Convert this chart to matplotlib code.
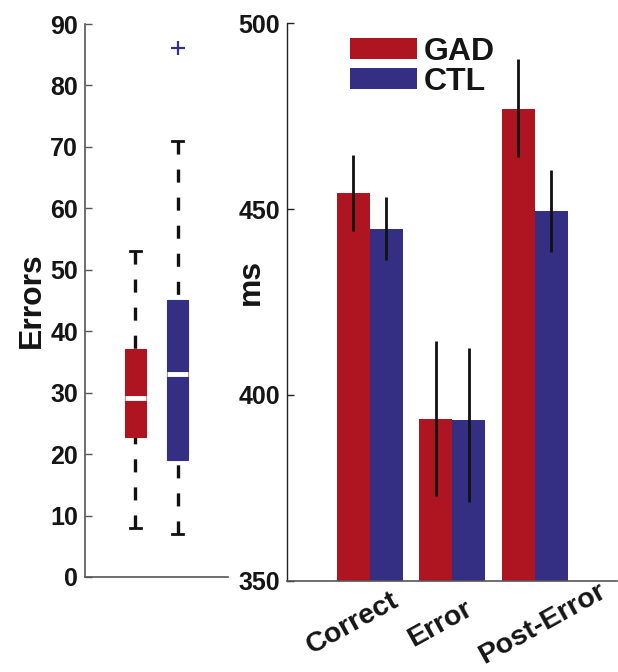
import matplotlib
matplotlib.use('Agg')
import matplotlib.pyplot as plt
import matplotlib.transforms as mtransforms
from matplotlib.patches import Patch

plt.rcParams['font.family'] = ['Liberation Sans', 'DejaVu Sans']
plt.rcParams['font.weight'] = 'bold'
plt.rcParams['lines.scale_dashes'] = False

# ---------------- data ----------------
groups = ['GAD', 'CTL']
group_colors = ['#AE1520', '#352F84']

# Box plot summary of errors
box_q1 = [22.8, 19.0]
box_median = [29.1, 33.1]
box_q3 = [37.1, 45.1]
whisk_lo = [8.0, 7.0]
whisk_hi = [53.1, 70.9]
box_outliers = [[], [86.1]]

# Reaction times (ms)
conditions = ['Correct', 'Error', 'Post-Error']
rt_gad = [454.4, 393.5, 477.0]
rt_ctl = [444.7, 393.3, 449.5]
gad_err_lo = [444.2, 372.8, 463.9]
gad_err_hi = [464.5, 414.5, 490.3]
ctl_err_lo = [436.2, 371.1, 438.4]
ctl_err_hi = [453.2, 412.6, 460.5]

left_yticks = [0, 10, 20, 30, 40, 50, 60, 70, 80, 90]
right_yticks = [350, 400, 450, 500]

TXT = '#151515'
W, H = 618, 672
fig = plt.figure(figsize=(W / 100, H / 100), dpi=100)

# ---------------- left: boxplot ----------------
axL = fig.add_axes([85 / W, 1 - 577 / H, 143 / W, 553 / H])
stats = []
for i in range(len(groups)):
    stats.append(dict(med=box_median[i], q1=box_q1[i], q3=box_q3[i],
                      whislo=whisk_lo[i], whishi=whisk_hi[i],
                      fliers=box_outliers[i], label=groups[i]))
pos = [1, 2]
bp = axL.bxp(stats, positions=pos, widths=0.52, capwidths=0.26,
             patch_artist=True, showfliers=True,
             whiskerprops=dict(color='#111111', lw=2.4, linestyle=(0, (9.4, 10.8))),
             capprops=dict(color='#111111', lw=2.0),
             medianprops=dict(color='white', lw=3.5, solid_capstyle='butt'),
             boxprops=dict(lw=0.8))
for patch, c in zip(bp['boxes'], group_colors):
    patch.set_facecolor(c)
    patch.set_edgecolor(c)
for line in bp['whiskers']:
    y = line.get_ydata()
    line.set_ydata(y[::-1])
    line.set_dash_capstyle('butt')
    line.set_zorder(1)
for fl, c in zip(bp['fliers'], group_colors):
    fl.set_marker('+')
    fl.set_markeredgecolor(c)
    fl.set_markersize(10)
    fl.set_markeredgewidth(1.6)
axL.set_xlim(-0.2, 3.2)
axL.set_ylim(0, 90)
axL.set_xticks([])
axL.set_yticks(left_yticks)
axL.tick_params(axis='y', direction='in', length=5, width=1, pad=5,
                labelsize=18, labelcolor=TXT, color='#555555')
for s in ['top', 'right']:
    axL.spines[s].set_visible(False)
for s in ['left', 'bottom']:
    axL.spines[s].set_color('#555555')
    axL.spines[s].set_linewidth(1.2)
axL.set_ylabel('Errors', fontsize=23, color=TXT, fontweight='bold')
axL.yaxis.set_label_coords(-0.27, 0.5)

# ---------------- right: bar chart ----------------
axR = fig.add_axes([287 / W, 1 - 580.7 / H, 330 / W, 557.4 / H])
x = [1, 2, 3]
bw = 0.4
xg = [v - bw / 2 for v in x]
xc = [v + bw / 2 for v in x]
axR.bar(xg, [v - 350 for v in rt_gad], bottom=350, width=bw, color=group_colors[0],
        label=groups[0], zorder=2)
axR.bar(xc, [v - 350 for v in rt_ctl], bottom=350, width=bw, color=group_colors[1],
        label=groups[1], zorder=2)
axR.vlines(xg, gad_err_lo, gad_err_hi, colors='#111111', lw=2.0, zorder=3)
axR.vlines(xc, ctl_err_lo, ctl_err_hi, colors='#111111', lw=2.0, zorder=3)
axR.set_xlim(0, 4)
axR.set_ylim(350, 500)
axR.set_yticks(right_yticks)
axR.tick_params(axis='y', direction='in', length=5, width=1, pad=5,
                labelsize=18, labelcolor=TXT, color='#222222')
axR.set_xticks(x)
axR.set_xticklabels(conditions, rotation=29, ha='center', va='center',
                    rotation_mode='anchor', fontsize=20.5, color=TXT)
axR.tick_params(axis='x', length=0, pad=31)
dx_px = [-17, -12, 8]
for lab, d in zip(axR.get_xticklabels(), dx_px):
    lab.set_transform(lab.get_transform() +
                      mtransforms.ScaledTranslation(d / 100, 0, fig.dpi_scale_trans))
for s in ['top', 'right']:
    axR.spines[s].set_visible(False)
axR.spines['left'].set_color('#222222')
axR.spines['bottom'].set_color('#555555')
axR.spines['left'].set_linewidth(1.0)
axR.spines['bottom'].set_linewidth(1.2)
axR.set_ylabel('ms', fontsize=23, color=TXT, fontweight='bold')
axR.yaxis.set_label_coords(-0.065, (580.7 - 282) / 557.4)

handles = [Patch(facecolor=c, edgecolor='none') for c in group_colors]
leg = axR.legend(handles, groups, loc='upper left',
                 bbox_to_anchor=((350 - 287) / 330, (580.7 - 37) / 557.4),
                 frameon=False, fontsize=23, handlelength=2.1, handleheight=0.65,
                 handletextpad=0.2, labelspacing=0.0, borderpad=0, borderaxespad=0)
for t in leg.get_texts():
    t.set_color(TXT)
    t.set_fontweight('bold')

fig.savefig('out.png', dpi=100)
